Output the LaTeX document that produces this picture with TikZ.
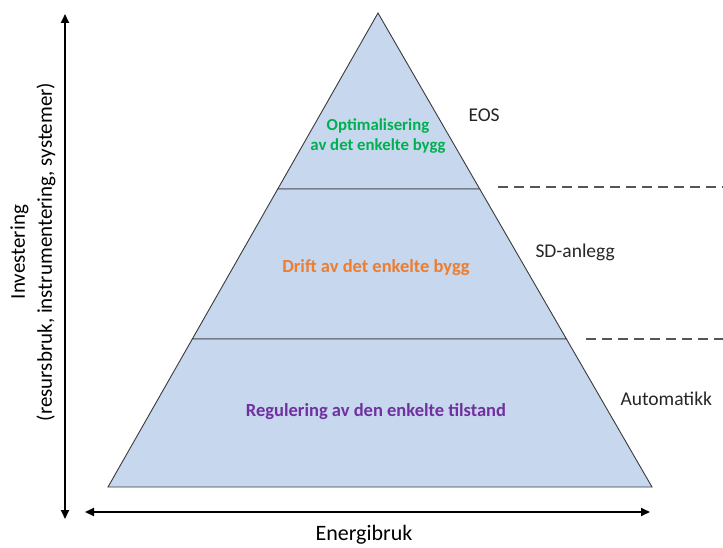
\documentclass[tikz,border=0pt]{standalone}
\usepackage{fontspec}
\setmainfont{Carlito}
\usetikzlibrary{arrows.meta,calc}
\definecolor{tierfill}{HTML}{C6D7EE}
\definecolor{tierline}{HTML}{3A3A3A}
\definecolor{optgreen}{HTML}{00B050}
\definecolor{driftorange}{HTML}{ED7D31}
\definecolor{regpurple}{HTML}{7030A0}
\definecolor{dashgray}{HTML}{555555}
\tikzset{
  tier/.style={fill=tierfill, draw=tierline, line width=0.9pt, line join=miter},
  tiertext/.style={font=\fontsize{18.5}{22}\selectfont\bfseries, align=center},
  smalltier/.style={font=\fontsize{16.8}{19.5}\selectfont\bfseries, align=center},
  sidelabel/.style={font=\fontsize{19.5}{22}\selectfont, anchor=west, text=black!85},
  axis/.style={line width=1.8pt, {Triangle[length=9pt,width=8pt]}-{Triangle[length=9pt,width=8pt]}},
  levelsep/.style={dashgray, line width=1.2pt, dash pattern=on 10pt off 6pt},
}
\begin{document}
\begin{tikzpicture}[x=1pt,y=-1pt]
  \useasboundingbox (0,0) rectangle (723,548);
  % pyramid corners
  \coordinate (apex) at (378,13);
  \coordinate (bl) at (108,487);
  \coordinate (br) at (652,487);
  % tier boundaries on the sloped sides
  \coordinate (l1) at ($(apex)!0.3713!(bl)$);
  \coordinate (r1) at ($(apex)!0.3713!(br)$);
  \coordinate (l2) at ($(apex)!0.6878!(bl)$);
  \coordinate (r2) at ($(apex)!0.6878!(br)$);
  % tiers
  \draw[tier] (apex) -- (r1) -- (l1) -- cycle;
  \draw[tier] (l1) -- (r1) -- (r2) -- (l2) -- cycle;
  \draw[tier] (l2) -- (r2) -- (br) -- (bl) -- cycle;
  % tier texts
  \node[smalltier, text=optgreen] (opt) at (378,136) {Optimalisering\\av det enkelte bygg};
  \node[tiertext, text=driftorange] (drift) at (376,268) {Drift av det enkelte bygg};
  \node[tiertext, text=regpurple] (reg) at (376,412) {Regulering av den enkelte tilstand};
  % side labels
  \node[sidelabel] (eos) at (465,115) {EOS};
  \node[sidelabel] (sd) at (532,252) {SD-anlegg};
  \node[sidelabel] (auto) at (617,399) {Automatikk};
  % dashed level separators
  \coordinate (d1a) at (498,187);
  \coordinate (d1b) at (723,187);
  \coordinate (d2a) at (586,339);
  \coordinate (d2b) at (723,339);
  \draw[levelsep] (d1a) -- (d1b);
  \draw[levelsep] (d2a) -- (d2b);
  % axes
  \coordinate (vtop) at (65,14);
  \coordinate (vbot) at (65,519);
  \coordinate (hl) at (85,512);
  \coordinate (hr) at (650,512);
  \draw[axis] (vtop) -- (vbot);
  \draw[axis] (hl) -- (hr);
  \node[font=\fontsize{22}{24}\selectfont] (energi) at (364,535) {Energibruk};
  \node[rotate=90, align=center, font=\fontsize{21}{27}\selectfont] (invest) at (33,252)
    {Investering\\(resursbruk, instrumentering, systemer)};
\end{tikzpicture}
\end{document}
